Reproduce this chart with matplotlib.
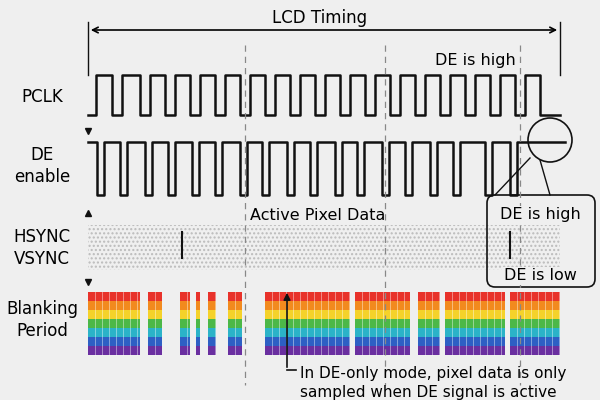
import matplotlib
matplotlib.use("Agg")
import matplotlib.pyplot as plt
from matplotlib.patches import FancyBboxPatch, Circle, Rectangle

title = "LCD Timing"
row_labels = ["PCLK", "DE\nenable", "HSYNC\nVSYNC", "Blanking\nPeriod"]
row_label_y = [97, 166, 248, 320]
pclk_high = [(96,112),(122,140),(150,165),(175,190),(200,215),(225,240),(250,265),(275,290),
             (300,315),(325,340),(350,365),(375,390),(400,415),(425,440),(450,465),(475,490),
             (500,515),(525,540)]
de_low = [(97,104),(120,127),(145,152),(168,175),(192,199),(215,222),(240,247),(262,269),
          (287,294),(310,317),(335,342),(357,364),(382,389),(405,412),(430,437),(453,460),
          (485,492),(510,517)]
blank_segments = [(88,140),(148,162),(180,190),(196,200),(208,216),(228,242),(265,350),
                  (355,410),(418,440),(445,505),(510,560)]
rainbow = ["#e8322a", "#f28a1e", "#f5d22a", "#4cb848", "#2bb3c8", "#2d5fc4", "#6a2fa0"]
dashed_x = [245, 385, 520]

fig = plt.figure(figsize=(6, 4), dpi=100, facecolor="#efefef")
ax = fig.add_axes([0, 0, 1, 1])
ax.set_xlim(0, 600); ax.set_ylim(400, 0); ax.axis("off")
ax.set_facecolor("#efefef")

def wave(highs, x0, x1, yh, yl, start_high):
    xs, ys = [x0], [yl if not start_high else yh]
    for a, b in highs:
        y_in = yh if not start_high else yl
        y_out = yl if not start_high else yh
        xs += [a, a, b, b]; ys += [y_out, y_in, y_in, y_out]
    xs.append(x1); ys.append(ys[-1])
    ax.plot(xs, ys, color="#111", lw=1.8)

wave(pclk_high, 88, 560, 75, 115, False)
wave(de_low, 88, 565, 142, 195, True)

ax.text(320, 18, title, ha="center", va="center", fontsize=12)
ax.annotate("", xy=(88, 30), xytext=(560, 30), arrowprops=dict(arrowstyle="<->", lw=1.2))
for x in (88, 560):
    ax.plot([x, x], [22, 75], color="#111", lw=1)
for x in dashed_x:
    ax.plot([x, x], [45, 385], color="#888", lw=0.9, ls=(0, (5, 4)))

for t, y in zip(row_labels, row_label_y):
    ax.text(42, y, t, ha="center", va="center", fontsize=12, linespacing=1.3)
for y, m in [(131, "v"), (213, "^"), (282, "v")]:
    ax.plot(88, y, marker=m, color="#111", ms=5)

ax.add_patch(Rectangle((88, 225), 472, 45, facecolor="none", hatch="....", edgecolor="#bbb", lw=0))
for x in (182, 510):
    ax.plot([x, x], [232, 258], color="#111", lw=1.5)
ax.text(318, 215, "Active Pixel Data", ha="center", va="center", fontsize=11.5)

bh = 63 / len(rainbow)
for a, b in blank_segments:
    for i, c in enumerate(rainbow):
        ax.add_patch(Rectangle((a, 292 + i * bh), b - a, bh, color=c, lw=0))
    x = a + 7
    while x < b:
        ax.plot([x, x], [292, 355], color="white", lw=0.6, alpha=0.5)
        x += 7

ax.annotate("", xy=(287, 290), xytext=(287, 370), arrowprops=dict(arrowstyle="-|>", lw=1.2, color="#111"))
ax.plot([287, 296], [370, 370], color="#111", lw=1.2)
ax.text(300, 383, "In DE-only mode, pixel data is only\nsampled when DE signal is active",
        ha="left", va="center", fontsize=11, linespacing=1.3)

ax.text(475, 60, "DE is high", ha="center", va="center", fontsize=11.5)
ax.add_patch(Circle((550, 140), 22, facecolor="none", edgecolor="#111", lw=1.2))
ax.add_patch(FancyBboxPatch((487, 195), 108, 92, boxstyle="round,pad=0,rounding_size=8",
                            facecolor="none", edgecolor="#111", lw=1.2))
ax.plot([530, 495], [158, 195], color="#111", lw=1)
ax.plot([540, 550], [160, 195], color="#111", lw=1)
ax.text(540, 215, "DE is high", ha="center", va="center", fontsize=11.5,
        bbox=dict(facecolor="#efefef", edgecolor="none", pad=1))
ax.text(540, 276, "DE is low", ha="center", va="center", fontsize=11.5,
        bbox=dict(facecolor="#efefef", edgecolor="none", pad=1))

fig.savefig("out.png", dpi=100, facecolor=fig.get_facecolor())
